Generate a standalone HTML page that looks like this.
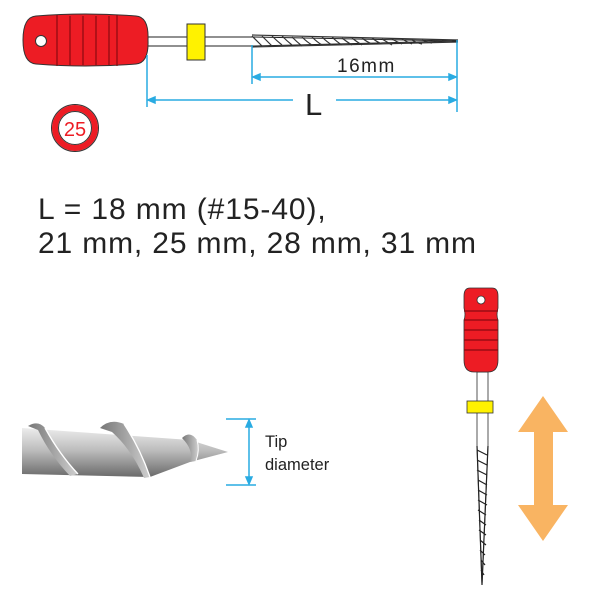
<!DOCTYPE html>
<html><head><style>body{margin:0;background:#fff}svg{display:block}</style></head><body>
<svg width="600" height="600" viewBox="0 0 600 600" xmlns="http://www.w3.org/2000/svg" font-family="Liberation Sans, sans-serif">
<!-- top file -->
<path d="M148,37 L252,37 L458,41 L252,46 L148,46 Z" fill="#fff" stroke="#222" stroke-width="1"/>
<g stroke="#333" stroke-width="1.2" fill="none">
<path d="M252,36 q5,5 10,10 M262,36 q5,5 10,10 M272,36 q5,5 10,9 M282,36 q5,5 10,9 M292,37 q5,5 10,9 M302,37 q5,5 10,8 M312,37 q5,5 10,8 M322,37 q5,5 10,8 M332,37 q5,5 10,8 M342,38 q5,4 10,7 M352,38 q5,4 10,7 M362,38 q5,4 10,6 M372,38 q5,4 10,6 M382,39 q5,3 10,6 M392,39 q5,3 10,5 M402,39 q5,3 10,5 M412,40 q5,3 10,4 M422,40 q5,2 10,3 M432,40 q5,2 10,2 M442,40 q5,1 10,1"/>
<path d="M252,35 L458,40 M252,47 L458,42"/>
</g>
<path d="M36,16 Q85,12 136,16 Q149,17 148,40 Q149,63 136,64 Q85,68 36,64 Q23,63 23,40 Q23,17 36,16Z" fill="#ed1c24" stroke="#333" stroke-width="1"/>
<g stroke="#8a0a10" stroke-width="1.2"><path d="M57,15v51M70,16v49M83,16v49M96,16v49M109,16v49M117,15v51"/></g>
<circle cx="41" cy="41" r="5.5" fill="#fff" stroke="#333"/>
<rect x="187" y="24" width="18" height="36" fill="#fff200" stroke="#333"/>
<g stroke="#29abe2" stroke-width="1.5" fill="#29abe2">
<path d="M147,55V107M252,45V84M457,40V112" fill="none"/>
<path d="M255,77H454M150,100H293M336,100H454" fill="none"/>
<path d="M253,77l7,-3v6zM456,77l-7,-3v6zM148,100l7,-3v6zM456,100l-7,-3v6z"/>
</g>
<text x="337" y="72" font-size="19" letter-spacing="1.5" fill="#222">16mm</text>
<text x="305" y="115" font-size="31" fill="#222">L</text>
<circle cx="75" cy="128" r="20" fill="#fff" stroke="#ed1c24" stroke-width="6"/>
<circle cx="75" cy="128" r="23.5" fill="none" stroke="#333" stroke-width="1"/>
<circle cx="75" cy="128" r="16.5" fill="none" stroke="#333" stroke-width="1"/>
<text x="75" y="136" font-size="20" fill="#ed1c24" text-anchor="middle">25</text>
<text x="38" y="219" font-size="30" letter-spacing="0.9" fill="#222">L = 18 mm (#15-40),</text>
<text x="38" y="253" font-size="30" letter-spacing="0.85" fill="#222">21 mm, 25 mm, 28 mm, 31 mm</text>
<!-- tip -->
<defs><linearGradient id="g" x1="0" y1="0" x2="0" y2="1"><stop offset="0" stop-color="#ececec"/><stop offset="0.45" stop-color="#bdbdbd"/><stop offset="1" stop-color="#6a6a6a"/></linearGradient>
<linearGradient id="d" x1="0" y1="0" x2="1" y2="0"><stop offset="0" stop-color="#777"/><stop offset="1" stop-color="#cfcfcf"/></linearGradient></defs>
<path d="M22,428 L190,440 L228,452 L190,462 L150,477 L22,474Z" fill="url(#g)"/>
<path d="M28,426 Q38,420 45,428 Q58,455 78,474 L70,476 Q50,455 38,430 Z" fill="url(#d)"/>
<path d="M45,428 Q60,455 78,474" stroke="#fff" stroke-width="1.3" fill="none"/>
<path d="M100,428 Q110,418 124,424 Q138,446 150,477 L144,478 Q132,450 112,432 Z" fill="url(#d)"/>
<path d="M124,424 Q140,448 150,477" stroke="#fff" stroke-width="1.3" fill="none"/>
<path d="M182,438 Q190,430 197,440 Q200,450 196,461 L190,462 Q194,450 182,438Z" fill="url(#d)"/>
<path d="M197,440 Q200,450 196,461" stroke="#fff" stroke-width="1" fill="none"/>
<g stroke="#29abe2" stroke-width="1.5" fill="#29abe2">
<path d="M226,419H256M226,485H256M249,422V482" fill="none"/>
<path d="M249,420l-3,7h6zM249,484l-3,-7h6z"/>
</g>
<text x="265" y="447" font-size="16.5" fill="#222">Tip</text>
<text x="265" y="470" font-size="16.5" fill="#222">diameter</text>
<!-- vertical file -->
<path d="M477,372V445L482,584L488,445V372Z" fill="#fff" stroke="#555" stroke-width="1"/>
<g stroke="#222" stroke-width="1.2" fill="none"><path d="M477,446 L482,585 L488,446 M477,450l10,5M477,460l10,5M477,470l10,5M478,480l9,5M478,490l9,5M478,500l9,5M478,510l8,5M479,520l7,5M479,530l7,5M480,540l6,5M480,550l5,5M481,560l4,5M481,570l3,5"/></g>
<rect x="467" y="401" width="26" height="12" fill="#fff200" stroke="#333" stroke-width="0.8"/>
<path d="M470,288 H492 Q498,288 498,296 V308 Q496,315 498,320 V360 Q498,372 488,372 H474 Q464,372 464,360 V320 Q466,315 464,308 V296 Q464,288 470,288Z" fill="#ed1c24" stroke="#333" stroke-width="0.8"/>
<g stroke="#8a0a10" stroke-width="1.2"><path d="M464,311H498M464,320H498M464,330H498M464,340H498M464,350H498"/></g>
<circle cx="481" cy="300" r="4" fill="#fff" stroke="#333" stroke-width="0.8"/>
<path d="M543,396 L568,432 L553,432 L553,505 L568,505 L543,541 L518,505 L534,505 L534,432 L518,432Z" fill="#f9b462"/>
</svg>
</body></html>
